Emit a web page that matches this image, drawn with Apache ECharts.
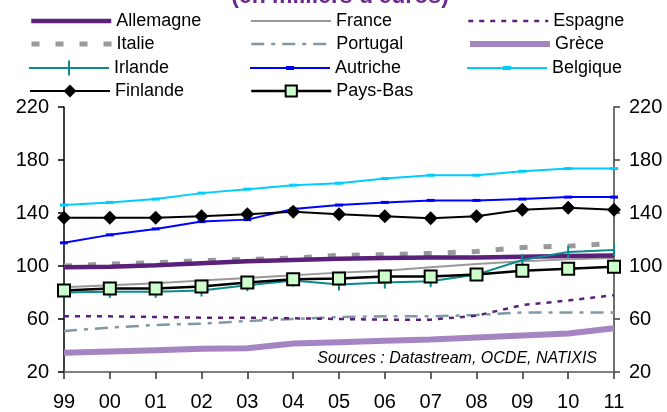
<!DOCTYPE html>
<html><head><meta charset="utf-8">
<script src="https://cdn.jsdelivr.net/npm/echarts@6/dist/echarts.min.js"></script>
<style>html,body{margin:0;padding:0;background:#fff}#c{width:667px;height:412px}</style>
</head><body><div id="c"></div>
<script>
// ---- data ----
const categories = ['99','00','01','02','03','04','05','06','07','08','09','10','11'];
const yTicks = [20, 60, 100, 140, 180, 220];
const allemagne = [99, 99.5, 100.5, 102, 103.5, 104.5, 105.5, 106, 106.5, 106.5, 107, 107.5, 108];
const france    = [84, 85.5, 87, 89, 91, 93, 95, 96.5, 99, 101.5, 103.5, 105, 106];
const espagne   = [62, 62, 61.5, 61, 61, 60.5, 60, 59.5, 59.5, 62.5, 70.5, 74, 78];
const italie    = [100, 101.5, 102.5, 104, 105, 106, 108, 108.5, 109.5, 111, 114, 115, 117];
const portugal  = [51, 53.5, 55.5, 56.5, 58.5, 60, 61.5, 62, 62, 63, 65, 65, 65];
const grece     = [34.5, 35.5, 36.5, 37.5, 38, 41.5, 42.5, 43.5, 44.5, 46, 47.5, 49, 53];
const irlande   = [80, 80.5, 80.5, 81.5, 85.5, 89, 86, 87.5, 88.5, 93.5, 104.5, 110.5, 112];
const autriche  = [117.5, 123.5, 128, 133.5, 135, 143, 146, 148, 149.5, 149.5, 150.5, 152, 152];
const belgique  = [146, 148, 150.5, 155, 158, 161, 162.5, 166, 168.5, 168.5, 171.5, 173.5, 173.5];
const finlande  = [136.5, 136.5, 136.5, 137.5, 139, 141, 139, 137.5, 136, 137.5, 142.5, 144, 142.5];
const paysBas   = [81.5, 83, 83, 84.5, 87.5, 90, 90.5, 92, 92, 93.5, 96.5, 98, 99.5];
const titleText = "(en milliers d'euros)";
const sourceText = 'Sources : Datastream, OCDE, NATIXIS';

const PURPLE = '#5b2079';
const series = [
  {name:'Grèce', data:grece, symbol:'none', lineStyle:{color:'#a585c1', width:6}, itemStyle:{color:'#a585c1'}},
  {name:'Portugal', data:portugal, symbol:'none', lineStyle:{color:'#7f98a8', width:2.5, type:[13,7,4,7]}, itemStyle:{color:'#7f98a8'}},
  {name:'Espagne', data:espagne, symbol:'none', lineStyle:{color:PURPLE, width:2.5, type:[5,6]}, itemStyle:{color:PURPLE}},
  {name:'Italie', data:italie, symbol:'none', lineStyle:{color:'#999999', width:5, type:[8,16]}, itemStyle:{color:'#999999'}},
  {name:'France', data:france, symbol:'none', lineStyle:{color:'#999999', width:2}, itemStyle:{color:'#999999'}},
  {name:'Allemagne', data:allemagne, symbol:'none', lineStyle:{color:PURPLE, width:4.5}, itemStyle:{color:PURPLE}},
  {name:'Irlande', data:irlande, symbol:'path://M0,0H2V12H0Z', symbolSize:12, symbolKeepAspect:true, lineStyle:{color:'#0a8a8a', width:2}, itemStyle:{color:'#0a8a8a'}},
  {name:'Autriche', data:autriche, symbol:'path://M0,0H8V3H0Z', symbolSize:8, symbolKeepAspect:true, lineStyle:{color:'#0000ff', width:2}, itemStyle:{color:'#0000ff'}},
  {name:'Belgique', data:belgique, symbol:'path://M0,0H8V3H0Z', symbolSize:8, symbolKeepAspect:true, lineStyle:{color:'#00ccff', width:2}, itemStyle:{color:'#00ccff'}},
  {name:'Finlande', data:finlande, symbol:'diamond', symbolSize:14, lineStyle:{color:'#000', width:2}, itemStyle:{color:'#000'}},
  {name:'Pays-Bas', data:paysBas, symbol:'rect', symbolSize:12, lineStyle:{color:'#000', width:2.5}, itemStyle:{color:'#ccffcc', borderColor:'#000', borderWidth:2}}
].map(s => Object.assign({type:'line', yAxisIndex:0, showSymbol: s.symbol !== 'none', z: 2}, s));

// legend icons drawn as paths for the tick / dash markers
const ICON_TICK = 'path://M0,6.5H80V8.5H0Z M39,0H41V15H39Z';
const ICON_DASH = 'path://M0,4H80V6H0Z M36,3H44V7H36Z';
// legend layout: [name, column, row, iconHeight, icon]
const colX = [29, 250, 467];
const rowY = [21, 44, 68, 91];
const legendLayout = [
  ['Allemagne',0,0,10,null], ['France',1,0,10,null], ['Espagne',2,0,10,null],
  ['Italie',0,1,10,null], ['Portugal',1,1,10,null], ['Grèce',2,1,10,null],
  ['Irlande',0,2,15,ICON_TICK], ['Autriche',1,2,10,ICON_DASH], ['Belgique',2,2,10,ICON_DASH],
  ['Finlande',0,3,16,null], ['Pays-Bas',1,3,14,null]
];
const noSymbol = new Set(series.filter(s => s.symbol === 'none').map(s => s.name));
const legends = legendLayout.map(([name,c,r,h,icon]) => {
  const item = {name};
  if (noSymbol.has(name)) item.itemStyle = {opacity:0};
  if (icon) item.icon = icon;
  return {
    data:[item], left: colX[c], top: rowY[r] - 9, orient:'horizontal', padding:0,
    itemWidth:80, itemHeight:h, itemGap:0, selectedMode:false,
    textStyle:{fontSize:18, fontFamily:'Arial, Liberation Sans', color:'#000', lineHeight:18},
    lineStyle:{width:'inherit'}, itemStyle:{borderWidth:'inherit'}
  };
});

const yAxisBase = (pos, lineColor) => ({
  type:'value', min:yTicks[0], max:yTicks[yTicks.length-1], interval:40, position:pos,
  axisLine:{show:true, lineStyle:{color:lineColor, width:1.5}},
  axisTick:{show:true, length:6, lineStyle:{color:lineColor, width:1.5}},
  axisLabel:{fontSize:20, fontFamily:'Arial, Liberation Sans', color:'#000', margin:15},
  splitLine:{show:false}
});

const option = {
  animation:false,
  backgroundColor:'#fff',
  grid:{left:64, right:53, top:107, bottom:40, containLabel:false, outerBoundsMode:'none'},
  legend: legends,
  xAxis:{type:'category', data:categories, boundaryGap:false,
    axisLine:{lineStyle:{color:'#808080', width:2}},
    axisTick:{show:true, length:7, lineStyle:{color:'#333', width:1.5}},
    axisLabel:{fontSize:20, fontFamily:'Arial, Liberation Sans', color:'#000', margin:20},
    splitLine:{show:false}},
  yAxis:[yAxisBase('left','#000'), yAxisBase('right','#404040')],
  series: series,
  graphic:[
    {type:'text', x:340, y:-3, style:{text:titleText, font:'bold 23px Arial, Liberation Sans', fill:'#6b2a8c', align:'center', verticalAlign:'middle'}},
    {type:'text', x:597, y:359, z:10, style:{text:sourceText, font:'italic 16px Arial, Liberation Sans', fill:'#000', align:'right', verticalAlign:'middle'}}
  ]
};
const chart = echarts.init(document.getElementById('c'));
chart.setOption(option);
</script>
</body></html>
